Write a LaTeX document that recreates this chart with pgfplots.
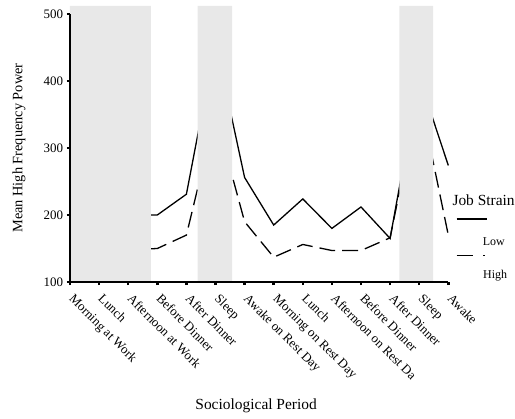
\documentclass[border=0pt]{standalone}
\usepackage{fontspec}
\setmainfont{Liberation Serif}
\usepackage{pgfplots}
\pgfplotsset{compat=1.18}
\definecolor{shade}{HTML}{E8E8E8}
\begin{document}
\begin{tikzpicture}
\begin{axis}[
  name=ax,
  scale only axis,
  width=378.3bp, height=268bp,
  xmin=0, xmax=13, ymin=100, ymax=500,
  axis lines=left,
  axis line style={line width=1.3bp, -},
  clip=false,
  axis on top,
  xtick={0,...,13},
  xticklabels={Morning at Work, Lunch, Afternoon at Work, Before Dinner, After Dinner, Sleep, Awake on Rest Day, Morning on Rest Day, Lunch, Afternoon on Rest Da, Before Dinner, After Dinner, Sleep, Awake},
  ytick={100,200,300,400,500},
  tick align=outside,
  major tick length=3bp,
  tick style={line width=2.5bp, black},
  x tick label style={xshift=5bp, yshift=-8bp, rotate=-45, anchor=north west, inner sep=0pt, font=\fontsize{13}{15}\selectfont},
  y tick label style={inner sep=0pt, xshift=-3.7bp, font=\fontsize{13}{15}\selectfont},
  /pgf/number format/assume math mode=true,
  xlabel={Sociological Period},
  ylabel={Mean High Frequency Power},
  xlabel style={at={(axis description cs:0.492,-0.4627)}, anchor=center, font=\fontsize{15.5}{18}\selectfont},
  ylabel style={at={(axis description cs:-0.1348,0.5)}, anchor=center, font=\fontsize{14.4}{17}\selectfont},
]
% Low job strain (solid)
\addplot[black, line width=1.3bp] coordinates {
 (2,200) (3,200) (4,231) (5,458) (6,256) (7,185) (8,224) (9,180) (10,212) (11,165) (12,405) (13,274)};
% High job strain (dashed)
\addplot[black, line width=1.3bp, dash pattern=on 16bp off 7bp] coordinates {
 (2,148) (3,150) (4,170) (5,350) (6,190) (7,137) (8,156) (9,147) (10,147) (11,166) (12,380) (13,170)};
% shaded periods
\addplot[fill=shade, draw=none] coordinates {(0,100) (0,512) (2.78,512) (2.78,100)} \closedcycle;
\addplot[fill=shade, draw=none] coordinates {(4.39,100) (4.39,512) (5.57,512) (5.57,100)} \closedcycle;
\addplot[fill=shade, draw=none] coordinates {(11.32,100) (11.32,512) (12.48,512) (12.48,100)} \closedcycle;
\end{axis}
\begin{scope}[shift={(ax.south west)}]
\node[anchor=base west, inner sep=0pt, font=\fontsize{15.5}{18}\selectfont] at (382.3bp,76bp) {Job Strain};
\draw[line width=1.3bp] (386.7bp,63bp) -- (416.7bp,63bp);
\node[anchor=base west, inner sep=0pt, font=\fontsize{12}{14}\selectfont] at (412.7bp,36.3bp) {Low};
\draw[line width=1.3bp, dash pattern=on 16.3bp off 10bp on 2bp off 10bp] (386.7bp,26.7bp) -- (416.7bp,26.7bp);
\node[anchor=base west, inner sep=0pt, font=\fontsize{12}{14}\selectfont] at (413bp,3.3bp) {High};
\end{scope}
\pgfresetboundingbox
\path (ax.south west) ++(-70bp,-137bp) rectangle ++(515bp,419bp);
\end{tikzpicture}
\end{document}
